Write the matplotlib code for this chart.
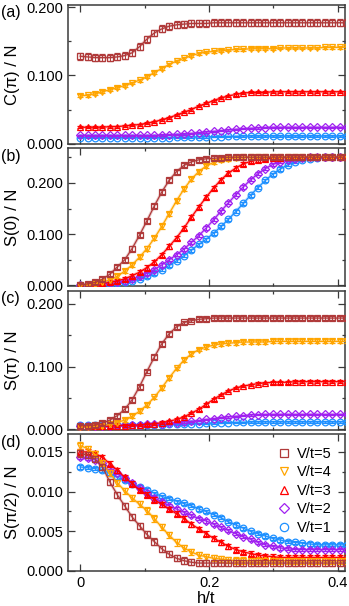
import numpy as np
import matplotlib
matplotlib.use("Agg")
import matplotlib.pyplot as plt
from matplotlib.ticker import MultipleLocator, FormatStrFormatter
from matplotlib.lines import Line2D

plt.rcParams['font.family'] = ['Liberation Sans', 'DejaVu Sans']

# h/t grid
h = [0.0, 0.0115, 0.023, 0.0345, 0.046, 0.0575, 0.069, 0.0805, 0.092, 0.1035,
     0.115, 0.1265, 0.138, 0.1495, 0.161, 0.1725, 0.184, 0.1955, 0.207, 0.2185,
     0.23, 0.2415, 0.253, 0.2645, 0.276, 0.2875, 0.299, 0.3105, 0.322, 0.3335,
     0.345, 0.3565, 0.368, 0.3795, 0.391, 0.4025, 0.414]

labels = ["V/t=5", "V/t=4", "V/t=3", "V/t=2", "V/t=1"]

# (a) C(pi)/N
Cpi_V5 = [0.128, 0.127, 0.126, 0.126, 0.126, 0.127, 0.129, 0.133, 0.142, 0.153,
          0.162, 0.168, 0.172, 0.174, 0.175, 0.176, 0.176, 0.176, 0.177, 0.177,
          0.177, 0.177, 0.177, 0.177, 0.177, 0.177, 0.177, 0.177, 0.177, 0.177,
          0.177, 0.177, 0.177, 0.177, 0.177, 0.177, 0.177]
Cpi_V4 = [0.070, 0.071, 0.073, 0.076, 0.079, 0.082, 0.085, 0.089, 0.093, 0.098,
          0.104, 0.110, 0.116, 0.121, 0.125, 0.129, 0.132, 0.134, 0.135, 0.136,
          0.137, 0.138, 0.138, 0.139, 0.139, 0.139, 0.139, 0.140, 0.140, 0.140,
          0.140, 0.140, 0.140, 0.141, 0.141, 0.141, 0.141]
Cpi_V3 = [0.024, 0.024, 0.024, 0.024, 0.025, 0.025, 0.026, 0.027, 0.028, 0.030,
          0.032, 0.035, 0.038, 0.042, 0.046, 0.050, 0.055, 0.059, 0.063, 0.067,
          0.070, 0.072, 0.074, 0.075, 0.075, 0.075, 0.076, 0.076, 0.076, 0.076,
          0.076, 0.076, 0.076, 0.076, 0.076, 0.076, 0.076]
Cpi_V2 = [0.012, 0.012, 0.012, 0.012, 0.012, 0.012, 0.012, 0.012, 0.012, 0.012,
          0.012, 0.0125, 0.013, 0.0135, 0.014, 0.015, 0.016, 0.017, 0.018, 0.019,
          0.020, 0.021, 0.022, 0.0225, 0.023, 0.0235, 0.024, 0.024, 0.024, 0.024,
          0.024, 0.024, 0.024, 0.024, 0.024, 0.024, 0.024]
Cpi_V1 = [0.009, 0.009, 0.009, 0.009, 0.009, 0.009, 0.009, 0.009, 0.009, 0.009,
          0.009, 0.009, 0.009, 0.0092, 0.0094, 0.0096, 0.0098, 0.010, 0.0102, 0.0104,
          0.0106, 0.0108, 0.011, 0.011, 0.011, 0.011, 0.011, 0.011, 0.011, 0.011,
          0.011, 0.011, 0.011, 0.011, 0.011, 0.011, 0.011]

# (b) S(0)/N
S0_V5 = [0.001, 0.003, 0.006, 0.012, 0.022, 0.036, 0.050, 0.072, 0.098, 0.126,
         0.155, 0.182, 0.205, 0.222, 0.234, 0.241, 0.245, 0.247, 0.248, 0.249,
         0.250, 0.250, 0.250, 0.250, 0.250, 0.250, 0.250, 0.250, 0.250, 0.250,
         0.250, 0.250, 0.250, 0.250, 0.250, 0.250, 0.250]
S0_V4 = [0.0005, 0.001, 0.003, 0.006, 0.011, 0.018, 0.028, 0.040, 0.055, 0.072,
         0.092, 0.115, 0.140, 0.165, 0.188, 0.207, 0.222, 0.233, 0.240, 0.245,
         0.247, 0.249, 0.250, 0.250, 0.250, 0.250, 0.250, 0.250, 0.250, 0.250,
         0.250, 0.250, 0.250, 0.250, 0.250, 0.250, 0.250]
S0_V3 = [0.0005, 0.001, 0.002, 0.004, 0.006, 0.009, 0.013, 0.019, 0.026, 0.035,
         0.046, 0.060, 0.076, 0.093, 0.112, 0.133, 0.153, 0.172, 0.190, 0.206,
         0.219, 0.229, 0.237, 0.242, 0.245, 0.247, 0.248, 0.249, 0.250, 0.250,
         0.250, 0.250, 0.250, 0.250, 0.250, 0.250, 0.250]
S0_V2 = [0.0003, 0.0006, 0.001, 0.002, 0.004, 0.006, 0.009, 0.013, 0.018, 0.024,
         0.031, 0.040, 0.050, 0.060, 0.071, 0.084, 0.097, 0.112, 0.128, 0.145,
         0.161, 0.177, 0.192, 0.206, 0.218, 0.228, 0.236, 0.241, 0.245, 0.247,
         0.249, 0.250, 0.250, 0.250, 0.250, 0.250, 0.250]
S0_V1 = [0.0002, 0.0004, 0.0008, 0.0015, 0.0025, 0.004, 0.006, 0.009, 0.013, 0.018,
         0.024, 0.031, 0.039, 0.048, 0.058, 0.069, 0.080, 0.090, 0.102, 0.115,
         0.129, 0.144, 0.160, 0.176, 0.191, 0.205, 0.217, 0.227, 0.235, 0.241,
         0.245, 0.247, 0.249, 0.250, 0.250, 0.250, 0.250]

# (c) S(pi)/N
Spi_V5 = [0.006, 0.006, 0.007, 0.010, 0.015, 0.022, 0.032, 0.047, 0.068, 0.092,
          0.115, 0.136, 0.152, 0.163, 0.170, 0.173, 0.175, 0.176, 0.177, 0.177,
          0.177, 0.177, 0.177, 0.177, 0.177, 0.177, 0.177, 0.177, 0.177, 0.177,
          0.177, 0.177, 0.177, 0.177, 0.177, 0.177, 0.177]
Spi_V4 = [0.004, 0.004, 0.005, 0.006, 0.008, 0.011, 0.015, 0.021, 0.029, 0.039,
          0.051, 0.066, 0.082, 0.097, 0.110, 0.120, 0.127, 0.131, 0.134, 0.136,
          0.137, 0.138, 0.139, 0.139, 0.139, 0.139, 0.140, 0.140, 0.140, 0.140,
          0.140, 0.140, 0.140, 0.140, 0.140, 0.140, 0.140]
Spi_V3 = [0.005, 0.005, 0.005, 0.005, 0.005, 0.006, 0.006, 0.007, 0.007, 0.008,
          0.009, 0.011, 0.013, 0.016, 0.020, 0.026, 0.032, 0.040, 0.048, 0.055,
          0.061, 0.066, 0.069, 0.071, 0.073, 0.074, 0.075, 0.075, 0.075, 0.076,
          0.076, 0.076, 0.076, 0.076, 0.076, 0.076, 0.076]
Spi_V2 = [0.006, 0.006, 0.006, 0.006, 0.006, 0.007, 0.007, 0.007, 0.007, 0.008,
          0.008, 0.009, 0.010, 0.011, 0.012, 0.013, 0.014, 0.016, 0.017, 0.019,
          0.020, 0.021, 0.022, 0.023, 0.0235, 0.024, 0.024, 0.024, 0.024, 0.024,
          0.024, 0.024, 0.024, 0.024, 0.024, 0.024, 0.024]
Spi_V1 = [0.007, 0.007, 0.007, 0.007, 0.007, 0.007, 0.007, 0.007, 0.0072, 0.0074,
          0.0076, 0.0078, 0.008, 0.0083, 0.0086, 0.009, 0.0094, 0.0098, 0.0102, 0.0106,
          0.011, 0.0113, 0.0116, 0.0118, 0.012, 0.012, 0.012, 0.012, 0.012, 0.012,
          0.012, 0.012, 0.012, 0.012, 0.012, 0.012, 0.012]

# (d) S(pi/2)/N
Spi2_V5 = [0.0148, 0.0146, 0.0141, 0.0131, 0.0112, 0.0096, 0.0082, 0.0068, 0.0057, 0.0046,
           0.0037, 0.0028, 0.0021, 0.0016, 0.0013, 0.0011, 0.0010, 0.0010, 0.0010, 0.0010,
           0.0010, 0.0010, 0.0010, 0.0010, 0.0010, 0.0010, 0.0010, 0.0010, 0.0010, 0.0010,
           0.0010, 0.0010, 0.0010, 0.0010, 0.0010, 0.0010, 0.0010]
Spi2_V4 = [0.0158, 0.0154, 0.0147, 0.0136, 0.0123, 0.0111, 0.0101, 0.0092, 0.0084, 0.0076,
           0.0066, 0.0055, 0.0045, 0.0036, 0.0029, 0.0024, 0.0020, 0.0018, 0.0016, 0.0015,
           0.0014, 0.0013, 0.0013, 0.0013, 0.0013, 0.0013, 0.0013, 0.0013, 0.0013, 0.0013,
           0.0013, 0.0013, 0.0013, 0.0013, 0.0013, 0.0013, 0.0013]
Spi2_V3 = [0.0150, 0.0150, 0.0148, 0.0143, 0.0135, 0.0127, 0.0118, 0.0110, 0.0102, 0.0096,
           0.0090, 0.0084, 0.0078, 0.0072, 0.0066, 0.0059, 0.0053, 0.0047, 0.0041, 0.0036,
           0.0031, 0.0027, 0.0024, 0.0022, 0.0020, 0.0019, 0.0018, 0.0017, 0.0017, 0.0017,
           0.0017, 0.0017, 0.0017, 0.0017, 0.0017, 0.0017, 0.0017]
Spi2_V2 = [0.0143, 0.0142, 0.0140, 0.0136, 0.0130, 0.0124, 0.0117, 0.0111, 0.0104, 0.0098,
           0.0092, 0.0087, 0.0082, 0.0078, 0.0074, 0.0070, 0.0066, 0.0063, 0.0059, 0.0055,
           0.0051, 0.0047, 0.0043, 0.0040, 0.0036, 0.0033, 0.0031, 0.0029, 0.0028, 0.0027,
           0.0027, 0.0027, 0.0027, 0.0027, 0.0027, 0.0027, 0.0027]
Spi2_V1 = [0.0131, 0.0130, 0.0129, 0.0127, 0.0123, 0.0118, 0.0114, 0.0110, 0.0106, 0.0102,
           0.0098, 0.0094, 0.0091, 0.0088, 0.0085, 0.0082, 0.0078, 0.0075, 0.0071, 0.0067,
           0.0062, 0.0058, 0.0054, 0.0050, 0.0047, 0.0044, 0.0041, 0.0039, 0.0037, 0.0036,
           0.0035, 0.0034, 0.0033, 0.0033, 0.0033, 0.0033, 0.0033]

# typical error-bar sizes per series (V/t=5..1) per panel
err_a = [0.005, 0.002, 0.0015, 0.001, 0.001]
err_b = [0.004, 0.004, 0.004, 0.003, 0.003]
err_c = [0.003, 0.003, 0.002, 0.001, 0.001]
err_d = [0.0004, 0.0004, 0.0003, 0.0002, 0.0002]

colors = ["#b03a3a", "#ffa500", "#ff0000", "#a020f0", "#1e90ff"]
markers = ["s", "v", "^", "D", "o"]
msizes = [5.0, 4.6, 4.6, 4.0, 4.8]

panels = [
    ([Cpi_V5, Cpi_V4, Cpi_V3, Cpi_V2, Cpi_V1], err_a, "C(\u03c0) / N", "(a)",
     (-0.0005, 0.203), [0.0, 0.1, 0.2], 0.05, "%.3f"),
    ([S0_V5, S0_V4, S0_V3, S0_V2, S0_V1], err_b, "S(0) / N", "(b)",
     (-0.001, 0.268), [0.0, 0.1, 0.2], 0.05, "%.3f"),
    ([Spi_V5, Spi_V4, Spi_V3, Spi_V2, Spi_V1], err_c, "S(\u03c0) / N", "(c)",
     (-0.0008, 0.22), [0.0, 0.1, 0.2], 0.05, "%.3f"),
    ([Spi2_V5, Spi2_V4, Spi2_V3, Spi2_V2, Spi2_V1], err_d, "S(\u03c0/2) / N", "(d)",
     (0.0, 0.01725), [0.0, 0.005, 0.010, 0.015], 0.0025, "%.3f"),
]

W, H = 349, 606
fig = plt.figure(figsize=(W / 100, H / 100), dpi=100)
boxes = [(5, 144), (148, 286), (291, 430), (434, 571)]
left, right = 68, 345
spine_c = "#3a3a3a"

for k, ((series, errs, ylab, tag, ylim, yt, ymin, fmt), (t, b)) in enumerate(zip(panels, boxes)):
    ax = fig.add_axes([left / W, 1 - b / H, (right - left) / W, (b - t) / H])
    for i in range(4, -1, -1):
        y = series[i]
        c = colors[i]
        ax.plot(h, y, color=c, lw=2.2, alpha=0.25, zorder=2 + i * 0.1)
        ax.errorbar(h, y, yerr=errs[i], color=c, lw=0.9, marker=markers[i],
                    ms=msizes[i], mfc="none", mec=c, mew=0.9, capsize=2,
                    elinewidth=0.7, capthick=0.7, zorder=3 + (4 - i) * 0.1,
                    label=labels[i])
    ax.set_xlim(-0.019, 0.411)
    ax.set_ylim(*ylim)
    ax.set_yticks(yt)
    ax.yaxis.set_major_formatter(FormatStrFormatter(fmt))
    ax.yaxis.set_minor_locator(MultipleLocator(ymin))
    ax.set_xticks([0.0, 0.2, 0.4])
    ax.xaxis.set_minor_locator(MultipleLocator(0.1))
    ax.tick_params(which="both", direction="in", top=True, right=True,
                   color=spine_c, labelsize=10.5, width=0.9)
    ax.tick_params(which="major", length=5)
    ax.tick_params(which="minor", length=2.5)
    for s in ax.spines.values():
        s.set_color(spine_c)
        s.set_linewidth(1.1)
    ax.set_ylabel(ylab, fontsize=12)
    ax.yaxis.set_label_coords(-0.172, 0.5)
    fig.text(1 / W, 1 - (t + 8) / H, tag, fontsize=11.5, va="center", ha="left")
    if k < 3:
        ax.tick_params(labelbottom=False)
    else:
        ax.xaxis.set_major_formatter(FormatStrFormatter("%g"))
        ax.set_xlabel("h/t", fontsize=12, labelpad=1)
        hs = [Line2D([], [], ls="none", marker=markers[i], ms=msizes[i] + 1.2,
                     mfc="none", mec=colors[i], mew=0.9) for i in range(5)]
        ax.legend(hs, labels, loc="upper right", frameon=False, fontsize=10.5,
                  handletextpad=0.3, labelspacing=0.3, borderaxespad=0.5,
                  handlelength=1.2)

fig.savefig("out.png", dpi=100)
